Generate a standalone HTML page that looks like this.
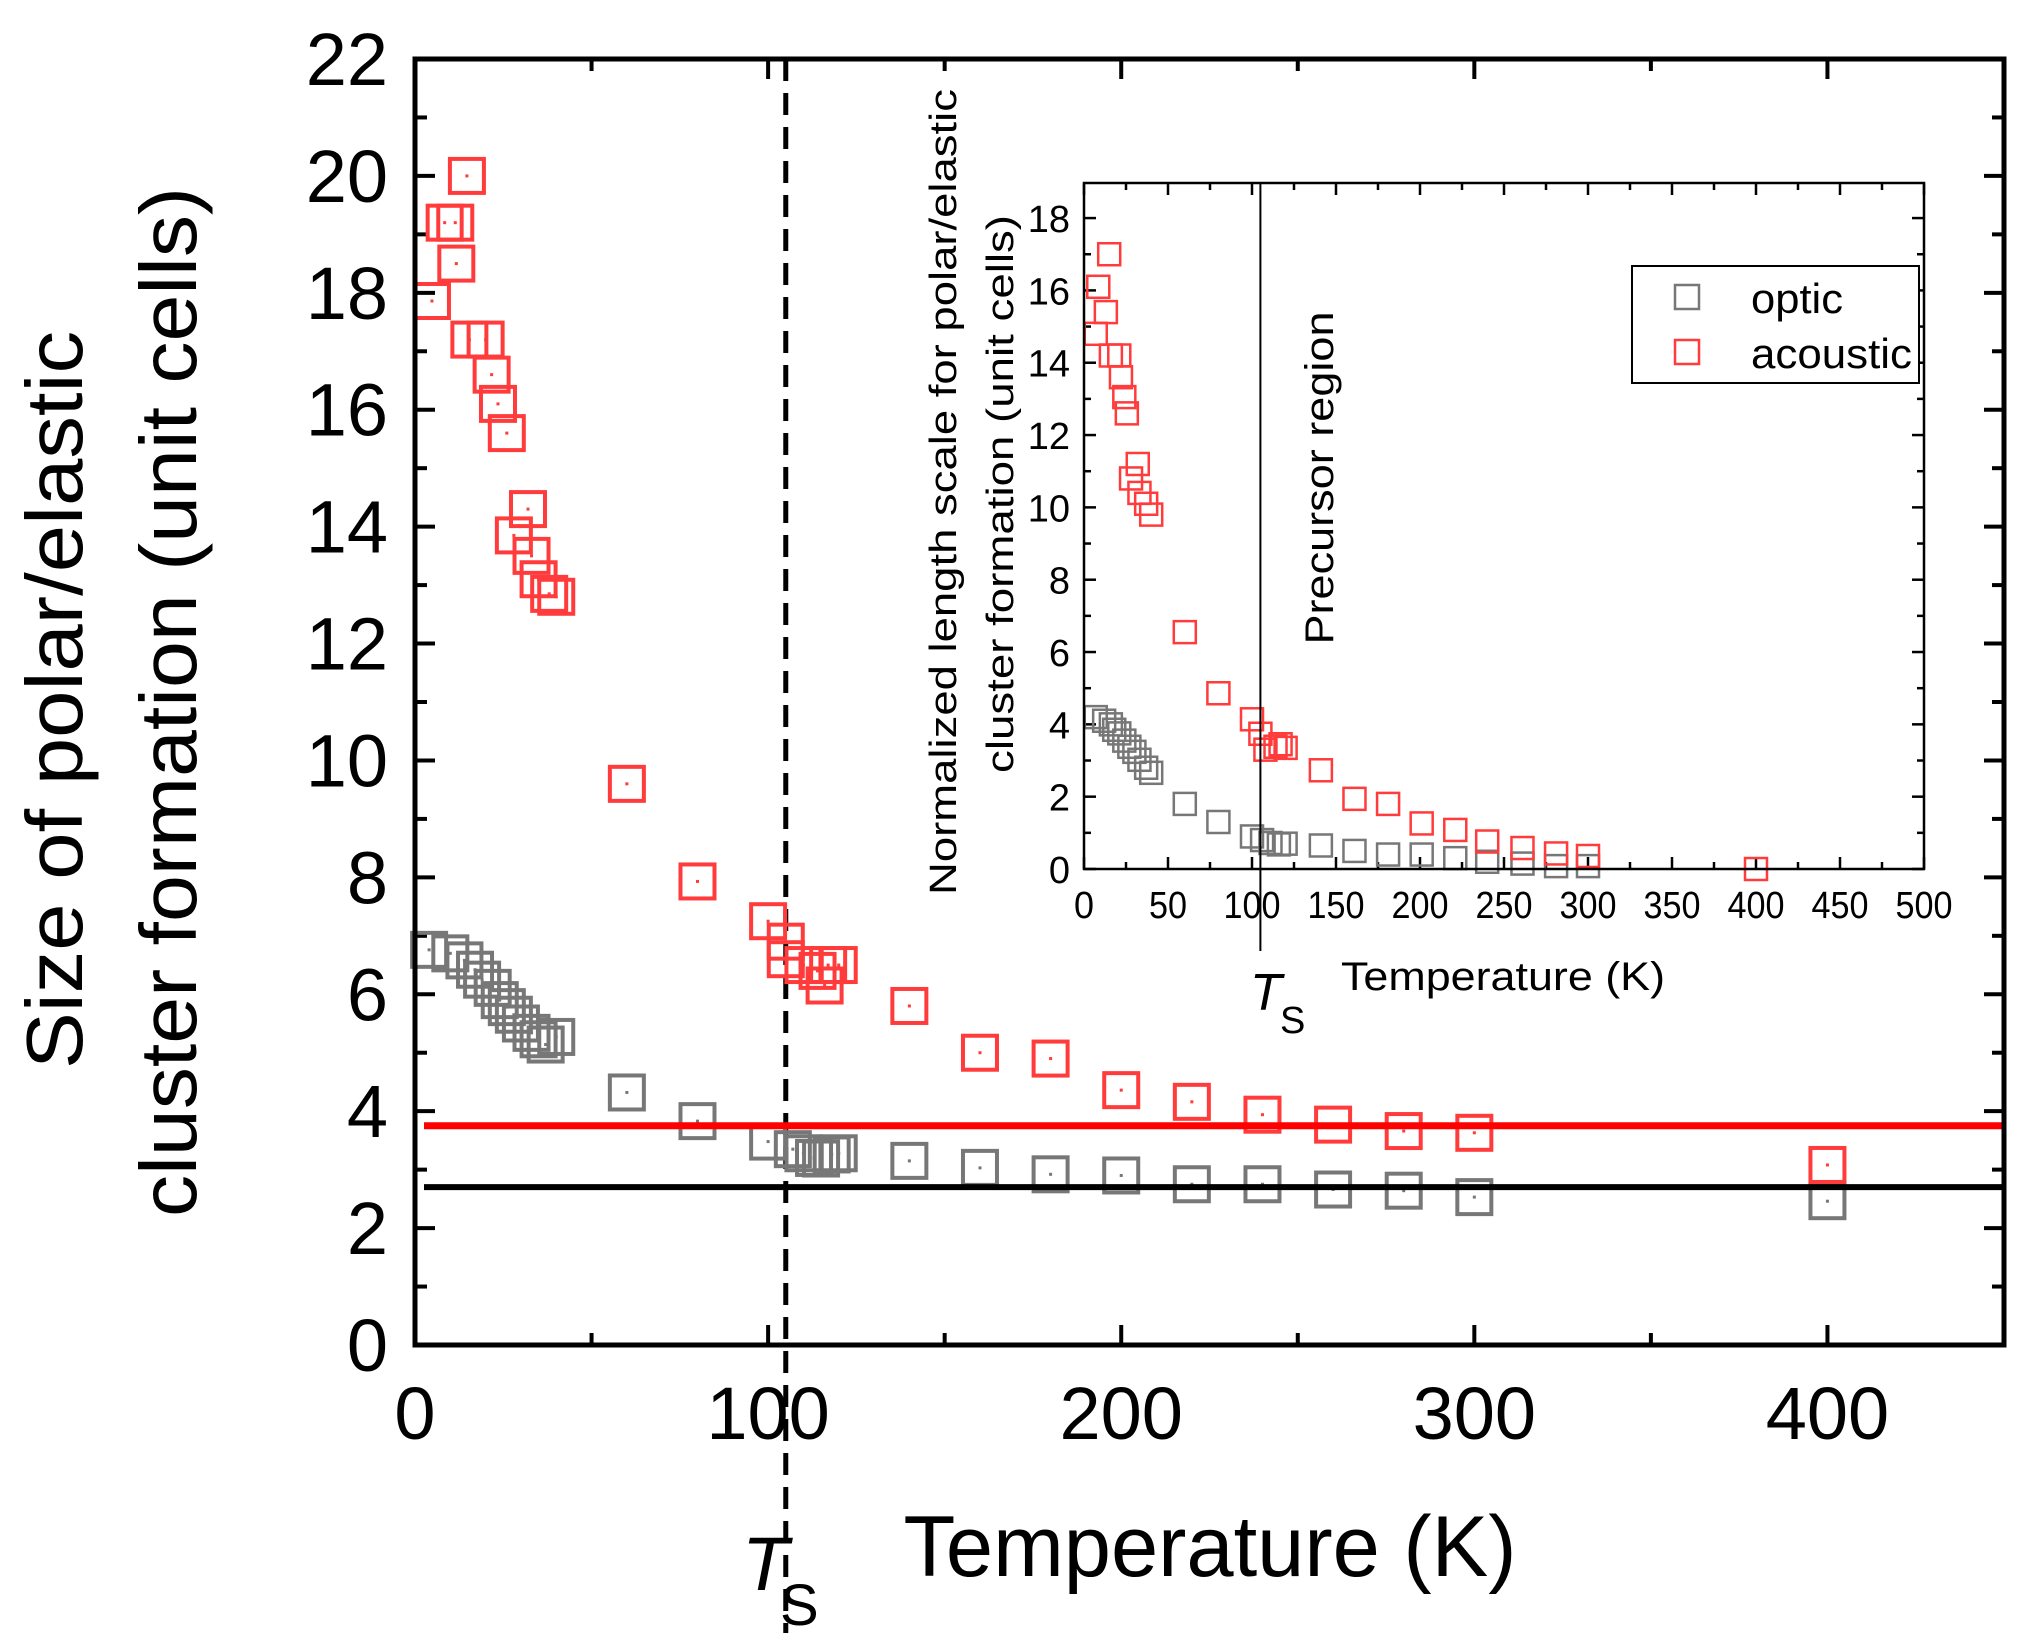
<!DOCTYPE html>
<html><head><meta charset="utf-8"><style>
html,body{margin:0;padding:0;background:#fff;}
svg{display:block;font-family:"Liberation Sans",sans-serif;}
</style></head><body>
<svg id="chart" width="2032" height="1651" viewBox="0 0 2032 1651" xmlns="http://www.w3.org/2000/svg">
<g id="main"></g>
<g id="inset"></g>
</svg>
<script>
// ---- main chart data ----
const mainAcousticT = [4.8,8.4,11.4,11.7,14.7,15.4,20,21.7,23.5,26,32,28,33,35,38,40,60,80,100,105,105,110,114,116,117,120,140,160,180,200,220,240,260,280,300,400];
const mainAcousticY = [17.86,19.2,19.2,18.5,20.0,17.2,17.2,16.6,16.1,15.6,14.3,13.85,13.5,13.1,12.85,12.8,9.6,7.93,7.25,6.9,6.6,6.5,6.4,6.15,6.5,6.5,5.8,5.0,4.9,4.36,4.16,3.94,3.77,3.66,3.63,3.08];
const mainOpticT = [4,10,14,17,19,22,24,26,28,30,33,35,37,40,60,80,100,107,110,113,115,118,120,140,160,180,200,220,240,260,280,300,400];
const mainOpticY = [6.76,6.7,6.58,6.42,6.25,6.11,5.9,5.78,5.65,5.5,5.34,5.23,5.14,5.27,4.32,3.83,3.48,3.35,3.28,3.2,3.19,3.26,3.28,3.15,3.03,2.92,2.9,2.75,2.75,2.66,2.64,2.53,2.46];
const mainXTicks = [0,100,200,300,400];
const mainYTicks = [0,2,4,6,8,10,12,14,16,18,20,22];
const refAcoustic = 3.75, refOptic = 2.7, tsValue = 105;
// ---- inset data ----
const insAcousticT = [7,8.5,13,15,16,21,22,24,25.5,32,28,33,37,40,60,80,100,105,108,114,117,120,141,161,181,201,221,240,261,281,300,400];
const insAcousticY = [14.8,16.1,15.4,17.0,14.2,14.2,13.6,13.05,12.6,11.2,10.8,10.4,10.1,9.8,6.55,4.86,4.14,3.74,3.3,3.38,3.45,3.35,2.73,1.94,1.8,1.26,1.08,0.76,0.58,0.43,0.36,0.0];
const insOpticT = [7,12,16,18,21,24,27,30,33,37,40,60,80,100,106,111,116,120,141,161,181,201,221,240,261,281,300];
const insOpticY = [4.2,4.1,4.0,3.85,3.75,3.55,3.38,3.24,3.02,2.8,2.66,1.8,1.3,0.9,0.8,0.72,0.68,0.7,0.65,0.5,0.4,0.4,0.3,0.2,0.15,0.08,0.08];
const insXTicks = [0,50,100,150,200,250,300,350,400,450,500];
const insYTicks = [0,2,4,6,8,10,12,14,16,18];

const NS="http://www.w3.org/2000/svg";
function mk(parent,tag,attrs,text){const e=document.createElementNS(NS,tag);for(const k in attrs)e.setAttribute(k,attrs[k]);if(text!==undefined)e.textContent=text;parent.appendChild(e);return e;}

// main axes
const M={l:415,r:2004,t:59,b:1345,xmax:450,ymax:22};
const mx=v=>M.l+(v/M.xmax)*(M.r-M.l);
const my=v=>M.b-(v/M.ymax)*(M.b-M.t);
const gm=document.getElementById('main');

// ticks main
for(let v=0;v<=450;v+=50){const maj=v%100===0,len=maj?20:12;
 let t=mk(gm,'line',{x1:mx(v),x2:mx(v),y1:M.b,y2:M.b-len,stroke:'#000','stroke-width':4});
 
 t=mk(gm,'line',{x1:mx(v),x2:mx(v),y1:M.t,y2:M.t+len,stroke:'#000','stroke-width':4});
 }
for(let v=0;v<=22;v+=1){const maj=v%2===0,len=maj?20:12;
 let t=mk(gm,'line',{x1:M.l,x2:M.l+len,y1:my(v),y2:my(v),stroke:'#000','stroke-width':4});
 
 t=mk(gm,'line',{x1:M.r,x2:M.r-len,y1:my(v),y2:my(v),stroke:'#000','stroke-width':4});
 }
mainXTicks.forEach(v=>{const t=mk(gm,'text',{x:mx(v),y:1439,'font-size':74,'text-anchor':'middle'},String(v));
 });
mainYTicks.forEach(v=>{const t=mk(gm,'text',{x:388,y:my(v)+26,'font-size':74,'text-anchor':'end'},String(v));
 });

// Ts dashed line
let ts=mk(gm,'line',{x1:mx(tsValue),x2:mx(tsValue),y1:M.t,y2:1633,stroke:'#000','stroke-width':5,'stroke-dasharray':'22 12'});


// markers main
function squares(g,T,Y,fx,fy,size,color,sw,dot,name){
 T.forEach((t,i)=>{const x=fx(t),y=fy(Y[i]);
  const r=mk(g,'rect',{x:x-size/2,y:y-size/2,width:size,height:size,fill:'none',stroke:color,'stroke-width':sw});
  
  if(dot){const d=mk(g,'rect',{x:x-1.5,y:y-1.5,width:3,height:3,fill:color});
   }
 });}
const gOpt=mk(gm,'g',{});
squares(gOpt,mainOpticT,mainOpticY,mx,my,34,'#777777',4,true,'optic-point');
const gAc=mk(gm,'g',{});
squares(gAc,mainAcousticT,mainAcousticY,mx,my,34,'#ff3b3b',4,true,'acoustic-point');

// reference lines
let rl=mk(gm,'line',{x1:424,x2:M.r,y1:my(refAcoustic),y2:my(refAcoustic),stroke:'#ff0000','stroke-width':7});

rl=mk(gm,'line',{x1:424,x2:M.r,y1:my(refOptic),y2:my(refOptic),stroke:'#000','stroke-width':6});


// frame
let fr=mk(gm,'rect',{x:M.l,y:M.t,width:M.r-M.l,height:M.b-M.t,fill:'none',stroke:'#000','stroke-width':5});


// titles
let tt=mk(gm,'text',{x:1210,y:1576,'font-size':86,'text-anchor':'middle',textLength:613,lengthAdjust:'spacingAndGlyphs'},'Temperature (K)');

tt=mk(gm,'text',{transform:'translate(82,700) rotate(-90)','font-size':80,'text-anchor':'middle',textLength:738,lengthAdjust:'spacingAndGlyphs'},'Size of polar/elastic');

tt=mk(gm,'text',{transform:'translate(196,702) rotate(-90)','font-size':80,'text-anchor':'middle',textLength:1030,lengthAdjust:'spacingAndGlyphs'},'cluster formation (unit cells)');

tt=mk(gm,'text',{x:742,y:1590,'font-size':76,'font-style':'italic'},'T');

tt=mk(gm,'text',{x:780,y:1625,'font-size':58},'S');


// ---- inset ----
const I={l:1084,r:1924,t:183,b:869,xmax:500,ymax:18.97};
const ix=v=>I.l+(v/I.xmax)*(I.r-I.l);
const iy=v=>I.b-(v/I.ymax)*(I.b-I.t);
const gi=document.getElementById('inset');
let bg=mk(gi,'rect',{x:I.l,y:I.t,width:I.r-I.l,height:I.b-I.t,fill:'#fff'});

for(let v=0;v<=500;v+=25){const maj=v%50===0,len=maj?12:7;
 let t=mk(gi,'line',{x1:ix(v),x2:ix(v),y1:I.b,y2:I.b-len,stroke:'#000','stroke-width':2.5});
 
 t=mk(gi,'line',{x1:ix(v),x2:ix(v),y1:I.t,y2:I.t+len,stroke:'#000','stroke-width':2.5});
 }
for(let v=0;v<=18;v+=1){const maj=v%2===0,len=maj?12:7;
 let t=mk(gi,'line',{x1:I.l,x2:I.l+len,y1:iy(v),y2:iy(v),stroke:'#000','stroke-width':2.5});
 
 t=mk(gi,'line',{x1:I.r,x2:I.r-len,y1:iy(v),y2:iy(v),stroke:'#000','stroke-width':2.5});
 }
insXTicks.forEach(v=>{const t=mk(gi,'text',{x:ix(v),y:918,'font-size':38,'text-anchor':'middle',textLength:v===0?20:(v<100?38:57),lengthAdjust:'spacingAndGlyphs'},String(v));
 });
insYTicks.forEach(v=>{const t=mk(gi,'text',{x:1070,y:iy(v)+14,'font-size':38,'text-anchor':'end'},String(v));
 });
const giO=mk(gi,'g',{});
squares(giO,insOpticT,insOpticY,ix,iy,22,'#777777',2.5,false,'inset-optic-point');
const giA=mk(gi,'g',{});
squares(giA,insAcousticT,insAcousticY,ix,iy,22,'#ff3b3b',2.5,false,'inset-acoustic-point');
let il=mk(gi,'line',{x1:ix(tsValue),x2:ix(tsValue),y1:I.t,y2:951,stroke:'#000','stroke-width':2});

fr=mk(gi,'rect',{x:I.l,y:I.t,width:I.r-I.l,height:I.b-I.t,fill:'none',stroke:'#000','stroke-width':2.5});

tt=mk(gi,'text',{x:1503,y:990,'font-size':40,'text-anchor':'middle',textLength:324,lengthAdjust:'spacingAndGlyphs'},'Temperature (K)');

tt=mk(gi,'text',{transform:'translate(956,492) rotate(-90)','font-size':38,'text-anchor':'middle',textLength:806,lengthAdjust:'spacingAndGlyphs'},'Normalized length scale for polar/elastic');

tt=mk(gi,'text',{transform:'translate(1013,494) rotate(-90)','font-size':38,'text-anchor':'middle',textLength:558,lengthAdjust:'spacingAndGlyphs'},'cluster formation (unit cells)');

tt=mk(gi,'text',{transform:'translate(1333,478) rotate(-90)','font-size':40,'text-anchor':'middle',textLength:333,lengthAdjust:'spacingAndGlyphs'},'Precursor region');

tt=mk(gi,'text',{x:1250,y:1010,'font-size':52,'font-style':'italic'},'T');

tt=mk(gi,'text',{x:1280,y:1033,'font-size':38},'S');


// legend
const lg=mk(gi,'g',{});
let lb=mk(lg,'rect',{x:1632,y:266,width:287,height:117,fill:'#fff',stroke:'#000','stroke-width':2});

let le=mk(lg,'rect',{x:1675,y:285,width:24,height:24,fill:'none',stroke:'#777777','stroke-width':2.5});

le=mk(lg,'rect',{x:1675,y:340,width:24,height:24,fill:'none',stroke:'#ff3b3b','stroke-width':2.5});

le=mk(lg,'text',{x:1751,y:313,'font-size':42,textLength:92,lengthAdjust:'spacingAndGlyphs'},'optic');

le=mk(lg,'text',{x:1751,y:368,'font-size':42,textLength:161,lengthAdjust:'spacingAndGlyphs'},'acoustic');

</script>
</body></html>
